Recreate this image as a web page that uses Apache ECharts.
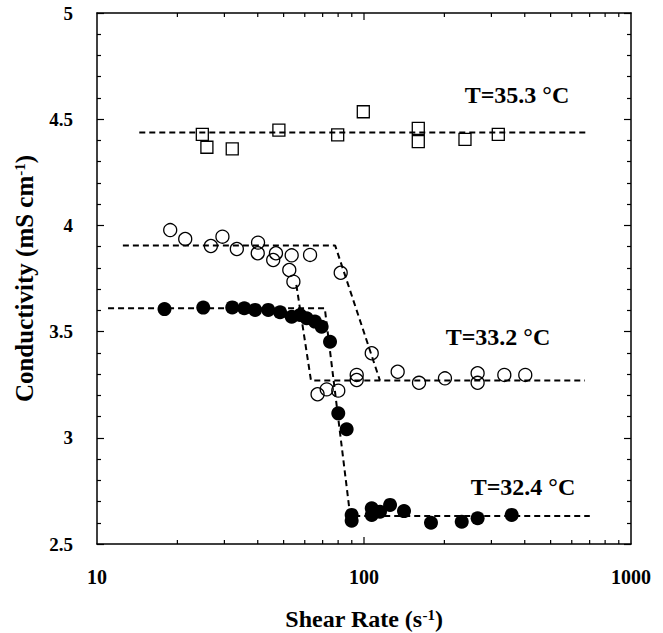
<!DOCTYPE html>
<html>
<head>
<meta charset="utf-8">
<script src="https://cdn.jsdelivr.net/npm/echarts@6/dist/echarts.min.js"></script>
<style>
  html, body { margin: 0; padding: 0; background: #fff; }
  #chart { width: 663px; height: 633px; }
</style>
</head>
<body>
<div id="chart"></div>
<script>
// T=35.3 °C (open squares)
const squareX = [24.8, 25.8, 32.1, 48.0, 79.7, 99.4, 159.7, 159.7, 238.9, 318.4];
const squareY = [4.429, 4.368, 4.36, 4.449, 4.426, 4.535, 4.457, 4.394, 4.405, 4.429];

// T=33.2 °C (open circles)
const openX = [18.8, 21.4, 26.7, 29.5, 33.4, 40.1, 40.0, 45.7, 46.8, 53.6, 52.5, 54.4, 62.8, 81.8, 106.9,
  93.9, 93.9, 133.7, 160.7, 201, 266.4, 266.4, 335.4, 401.8, 67.0, 72.5, 80.1];
const openY = [3.978, 3.936, 3.903, 3.947, 3.889, 3.919, 3.869, 3.837, 3.869, 3.859, 3.79, 3.735, 3.861, 3.777, 3.398,
  3.296, 3.272, 3.311, 3.259, 3.28, 3.304, 3.259, 3.296, 3.296, 3.205, 3.228, 3.222];

// T=32.4 °C (filled circles)
const filledX = [17.9, 25.0, 32.1, 35.6, 39.1, 43.8, 48.5, 53.6, 57.6, 61.0, 65.5, 69.4, 74.6, 80.1, 86.1,
  89.9, 89.9, 106.9, 106.9, 114.8, 125.2, 141.2, 178.2, 232.3, 266.4, 357.4];
const filledY = [3.606, 3.613, 3.614, 3.61, 3.602, 3.602, 3.591, 3.57, 3.578, 3.563, 3.547, 3.523, 3.452, 3.115, 3.04,
  2.637, 2.61, 2.668, 2.637, 2.652, 2.684, 2.655, 2.60, 2.605, 2.621, 2.637];

// dashed guide lines
const squareFitX = [14.4, 682];
const squareFitY = [4.437, 4.437];
const openUpperX = [12.5, 78, 114.7];
const openUpperY = [3.905, 3.905, 3.27];
const openLowerX = [55.8, 63.3, 672];
const openLowerY = [3.72, 3.27, 3.27];
const filledFitX = [11, 71.3, 88.8, 701];
const filledFitY = [3.61, 3.61, 2.632, 2.632];

// x ticks (shear rate values)
const xMajor = [100];
const xMinor = [20, 30, 40, 50, 60, 70, 80, 90, 200, 300, 400, 500, 600, 700, 800, 900];

const labels = [
  { text: 'T=35.3 °C', x: 517, y: 95 },
  { text: 'T=33.2 °C', x: 498, y: 337 },
  { text: 'T=32.4 °C', x: 523, y: 487 }
];

function pairs(xs, ys) {
  return xs.map((x, i) => [x, ys[i]]);
}

const serif = '"Liberation Serif", "DejaVu Serif", serif';
const chart = echarts.init(document.getElementById('chart'), null, { renderer: 'svg' });

const dash = { color: '#000', width: 2, type: [6, 4] };
const yMin = 2.5, yMax = 5;

// inward log ticks on bottom and top frame edges
function tickSeries(values, len) {
  return {
    type: 'custom',
    silent: true,
    data: values.map(v => [v]),
    renderItem: function (params, api) {
      const b = api.coord([api.value(0), yMin]);
      const t = api.coord([api.value(0), yMax]);
      const st = { stroke: '#000', lineWidth: 1.2 };
      return {
        type: 'group',
        children: [
          { type: 'line', shape: { x1: b[0], y1: b[1], x2: b[0], y2: b[1] - len }, style: st },
          { type: 'line', shape: { x1: t[0], y1: t[1], x2: t[0], y2: t[1] + len }, style: st }
        ]
      };
    }
  };
}

const supStyle = { fontFamily: serif, fontWeight: 'bold', fontSize: 15, color: '#000', verticalAlign: 'top', lineHeight: 15 };

const option = {
  backgroundColor: '#fff',
  animation: false,
  grid: { left: 97, right: 32, top: 13, bottom: 89, outerBoundsMode: 'none' },
  xAxis: [
    {
      type: 'log',
      logBase: 10,
      min: 10,
      max: 1000,
      position: 'bottom',
      name: 'Shear Rate (s{sup|-1})',
      nameLocation: 'middle',
      nameGap: 63,
      nameTextStyle: {
        fontFamily: serif, fontWeight: 'bold', fontSize: 24, color: '#000',
        rich: { sup: supStyle }
      },
      axisLine: { lineStyle: { color: '#000', width: 1.5 } },
      axisTick: { show: false },
      axisLabel: {
        margin: 23, color: '#000',
        fontFamily: serif, fontWeight: 'bold', fontSize: 20,
        formatter: v => String(Math.round(v))
      },
      splitLine: { show: false }
    },
    {
      type: 'log',
      logBase: 10,
      min: 10,
      max: 1000,
      position: 'top',
      axisLine: { show: true, lineStyle: { color: '#000', width: 1.5 } },
      axisTick: { show: false },
      axisLabel: { show: false },
      splitLine: { show: false }
    }
  ],
  yAxis: [
    {
      type: 'value',
      min: yMin,
      max: yMax,
      interval: 0.5,
      position: 'left',
      name: 'Conductivity (mS cm{sup|-1})',
      nameLocation: 'middle',
      nameGap: 60,
      nameTextStyle: {
        fontFamily: serif, fontWeight: 'bold', fontSize: 25, color: '#000',
        rich: { sup: supStyle }
      },
      axisLine: { show: true, lineStyle: { color: '#000', width: 1.5 } },
      axisTick: { show: true, inside: true, length: 7, lineStyle: { color: '#000', width: 1.2 } },
      minorTick: { show: true, splitNumber: 5, length: 4, lineStyle: { color: '#000', width: 1.2 } },
      axisLabel: {
        margin: 24, color: '#000', fontFamily: serif, fontWeight: 'bold', fontSize: 19,
        formatter: v => String(Math.round(v * 10) / 10)
      },
      splitLine: { show: false }
    },
    {
      type: 'value',
      min: yMin,
      max: yMax,
      interval: 0.5,
      position: 'right',
      axisLine: { show: true, lineStyle: { color: '#000', width: 1.5 } },
      axisTick: { show: true, inside: true, length: 7, lineStyle: { color: '#000', width: 1.2 } },
      minorTick: { show: true, splitNumber: 5, length: 4, lineStyle: { color: '#000', width: 1.2 } },
      axisLabel: { show: false },
      splitLine: { show: false }
    }
  ],
  series: [
    tickSeries(xMajor, 7),
    tickSeries(xMinor, 4),
    { type: 'line', data: pairs(squareFitX, squareFitY), showSymbol: false, lineStyle: dash, silent: true },
    { type: 'line', data: pairs(openUpperX, openUpperY), showSymbol: false, lineStyle: dash, silent: true },
    { type: 'line', data: pairs(openLowerX, openLowerY), showSymbol: false, lineStyle: dash, silent: true },
    { type: 'line', data: pairs(filledFitX, filledFitY), showSymbol: false, lineStyle: dash, silent: true },
    {
      name: 'T=35.3 °C', type: 'scatter', symbol: 'rect', symbolSize: 12,
      data: pairs(squareX, squareY),
      itemStyle: { color: 'rgba(255,255,255,0)', borderColor: '#000', borderWidth: 1.3, opacity: 1 }
    },
    {
      name: 'T=33.2 °C', type: 'scatter', symbol: 'circle', symbolSize: 13,
      data: pairs(openX, openY),
      itemStyle: { color: 'rgba(255,255,255,0)', borderColor: '#000', borderWidth: 1.3, opacity: 1 }
    },
    {
      name: 'T=32.4 °C', type: 'scatter', symbol: 'circle', symbolSize: 14,
      data: pairs(filledX, filledY),
      itemStyle: { color: '#000', opacity: 1 }
    }
  ],
  graphic: labels.map(l => ({
    type: 'text',
    x: l.x,
    y: l.y,
    style: {
      text: l.text,
      fill: '#000',
      font: 'bold 24px ' + serif,
      textAlign: 'center',
      textVerticalAlign: 'middle'
    }
  }))
};

chart.setOption(option);
</script>
</body>
</html>
